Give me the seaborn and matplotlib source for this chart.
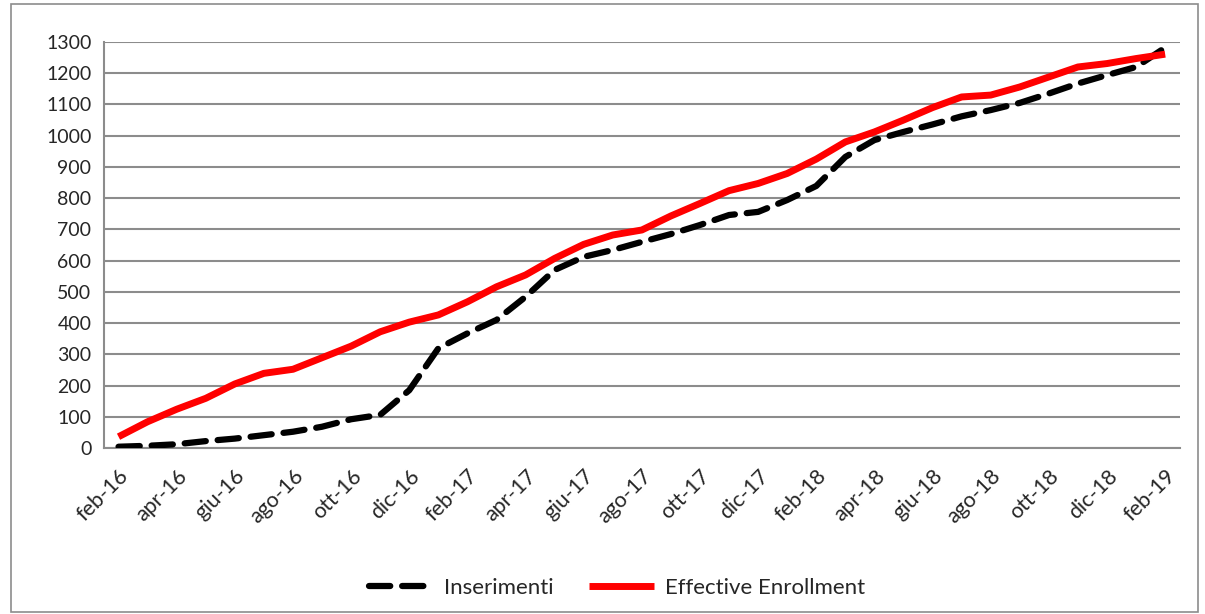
import numpy as np
import pandas as pd
import matplotlib
matplotlib.use("Agg")
import matplotlib.pyplot as plt
import seaborn as sns
from matplotlib.patches import Rectangle

# monthly labels feb-16 .. feb-19
months = ["feb", "mar", "apr", "mag", "giu", "lug", "ago", "set", "ott", "nov", "dic", "gen"]
month_labels = []
yr = 16
for k in range(37):
    m = months[k % 12]
    if m == "gen":
        yr += 1
    month_labels.append(f"{m}-{yr}")

inserimenti = [4, 7, 12, 22, 30, 41, 52, 68, 92, 106, 185, 319, 367, 410, 484, 570,
               612, 634, 660, 685, 714, 746, 756, 794, 839, 932, 986, 1012, 1036, 1062,
               1082, 1105, 1135, 1167, 1194, 1220, 1282]
enrollment = [36, 84, 124, 159, 205, 239, 252, 289, 326, 372, 403, 426, 468, 516, 554, 607,
              652, 682, 698, 743, 783, 824, 847, 879, 925, 980, 1012, 1050, 1090, 1124,
              1130, 1156, 1188, 1220, 1231, 1247, 1261]

df = pd.DataFrame({"idx": np.arange(len(month_labels)),
                   "Inserimenti": inserimenti,
                   "Effective Enrollment": enrollment})

sns.set_style("white")
plt.rcParams["font.family"] = ["Lato", "DejaVu Sans"]

fig = plt.figure(figsize=(12.05, 6.14), dpi=100)
ax = fig.add_axes([0.0863, 0.2704, 0.8927, 0.6612])

grid_c = "#8c8c8c"
sns.lineplot(data=df, x="idx", y="Inserimenti", ax=ax, color="black", lw=4.5,
             label="Inserimenti", zorder=3)
ax.lines[-1].set_dashes((3.4, 1.9))
ax.lines[-1].set_dash_capstyle("round")
sns.lineplot(data=df, x="idx", y="Effective Enrollment", ax=ax, color="#ff0000", lw=5,
             label="Effective Enrollment", zorder=4)
ax.lines[-1].set_solid_capstyle("butt")

ax.set_xlim(-0.5, len(month_labels) - 0.5)
ax.set_ylim(0, 1300)
ax.set_yticks(np.arange(0, 1301, 100))
ax.yaxis.grid(True, color=grid_c, lw=1.5)
ax.set_axisbelow(True)

ax.set_xticks(np.arange(0, len(month_labels), 2))
ax.set_xticklabels(month_labels[::2], rotation=45, ha="right", rotation_mode="anchor",
                   fontsize=15.5)
ax.set_xticks(np.arange(-0.5, len(month_labels), 2), minor=True)
ax.tick_params(axis="x", which="major", length=0, pad=13)
ax.tick_params(axis="x", which="minor", length=6, width=1.5, color=grid_c, direction="out")
ax.tick_params(axis="y", length=5, width=1.5, color=grid_c, direction="out", labelsize=14, pad=4)
ax.set_xlabel("")
ax.set_ylabel("")

for s in ["top", "right"]:
    ax.spines[s].set_visible(False)
for s in ["left", "bottom"]:
    ax.spines[s].set_color(grid_c)
    ax.spines[s].set_linewidth(1.5)

leg = ax.legend(loc="center", bbox_to_anchor=(0.512, 0.043), bbox_transform=fig.transFigure,
                ncol=2, frameon=False, fontsize=16, handlelength=2.9, columnspacing=1.6,
                handletextpad=0.5)

fig.patches.append(Rectangle((0.009, 0.004), 0.985, 0.99, transform=fig.transFigure,
                             fill=False, edgecolor=grid_c, lw=1.2))

fig.savefig("out.png", dpi=100)
